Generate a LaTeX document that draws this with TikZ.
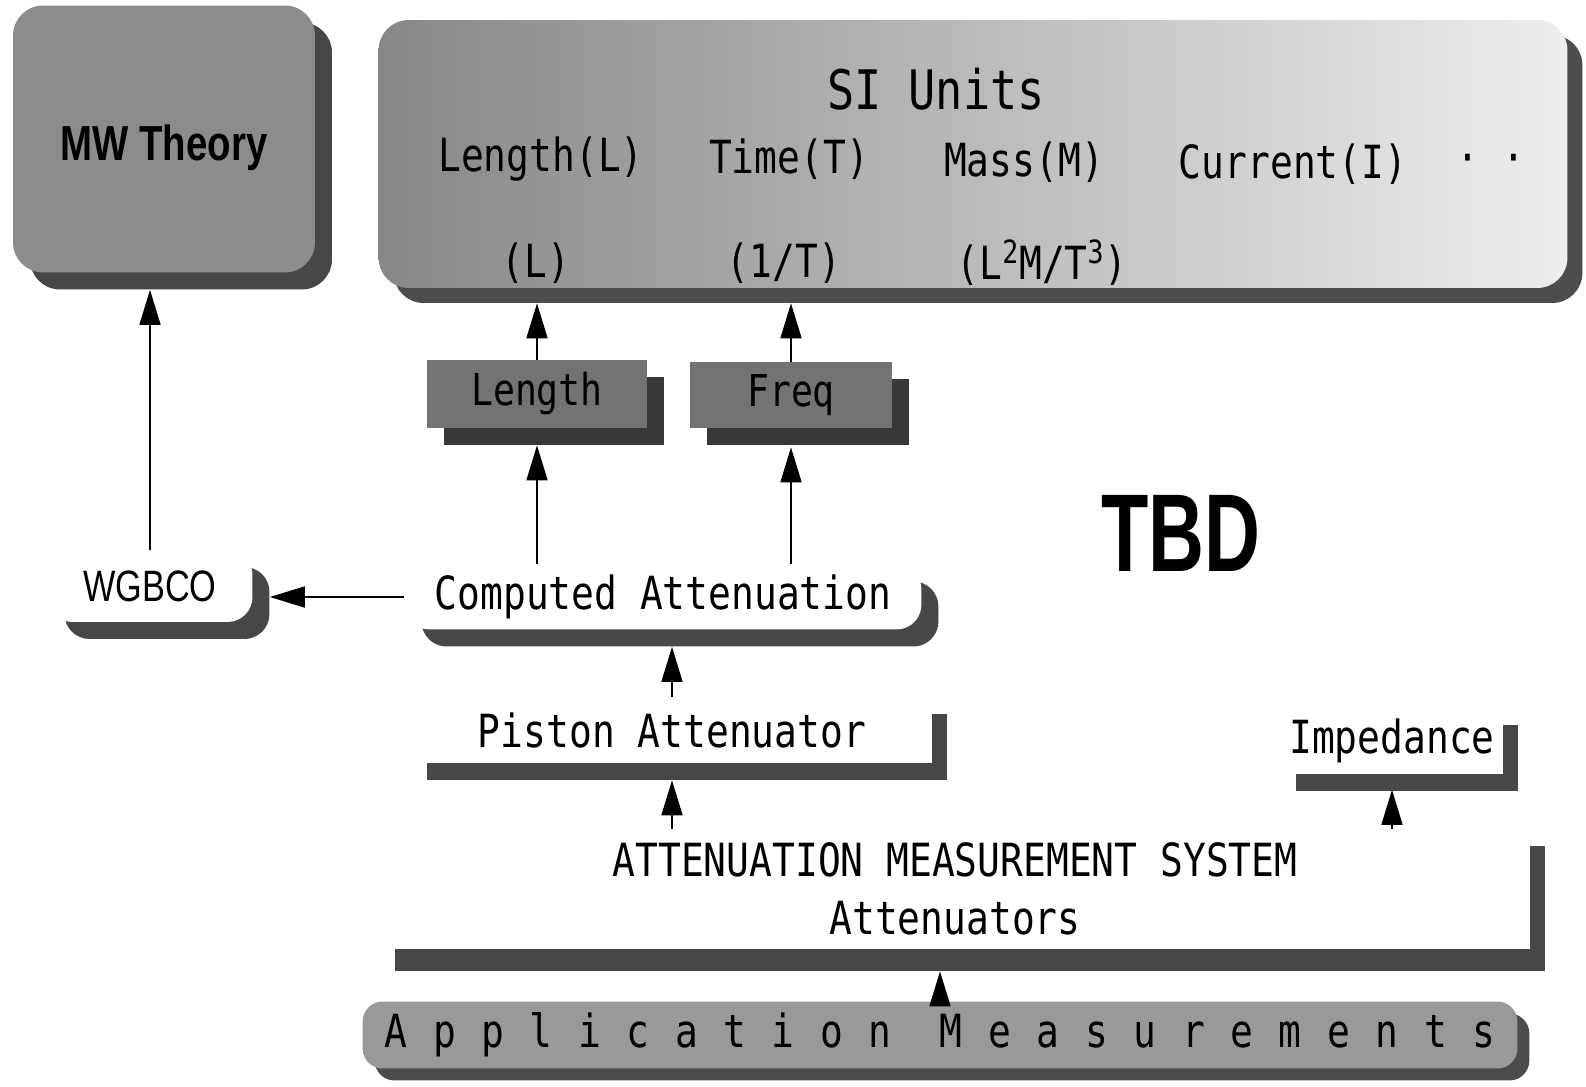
\documentclass[tikz,border=0pt]{standalone}
\usepackage{fontspec}
\usepackage{graphicx}
\usetikzlibrary{arrows.meta,shadows}
\newfontfamily\monofont[FakeStretch=0.83]{DejaVu Sans Mono}
\newfontfamily\condfont[FakeStretch=0.78]{Liberation Sans}
\newfontfamily\tbdfont[FakeStretch=0.7]{Liberation Sans}
\tikzset{
  txt/.style={font=\monofont\fontsize{26}{30}\selectfont, inner sep=0pt},
  link/.style={-{Triangle[length=0.7cm,width=0.42cm]}, line width=0.9pt},
  greybox/.style={fill=black!45, rounded corners=0.6cm,
    drop shadow={shadow xshift=0.34cm, shadow yshift=-0.34cm, fill=black!72, opacity=1}},
  sibox/.style={left color=black!47, right color=black!7, rounded corners=0.6cm,
    drop shadow={shadow xshift=0.3cm, shadow yshift=-0.3cm, fill=black!70, opacity=1}},
  tagbox/.style={fill=black!55, txt, font=\monofont\fontsize{25}{30}\selectfont,
    drop shadow={shadow xshift=0.34cm, shadow yshift=-0.34cm, fill=black!78, opacity=1}},
  roundbox/.style={fill=white, txt, rounded corners=0.5cm,
    drop shadow={shadow xshift=0.34cm, shadow yshift=-0.34cm, fill=black!72, opacity=1}},
  flatbox/.style={fill=white, txt,
    drop shadow={shadow xshift=0.3cm, shadow yshift=-0.34cm, fill=black!72, opacity=1}},
}
\begin{document}
\begin{tikzpicture}[x=0.02cm, y=-0.02cm]
  \useasboundingbox (0,0) rectangle (1586,1087);

  % Theorie en SI-eenheden
  \node[greybox, minimum width=6.04cm, minimum height=5.34cm, text height=1.05cm,
        font=\condfont\bfseries\fontsize{28}{32}\selectfont] (mw) at (164,139) {MW Theory};
  \node[sibox, minimum width=23.78cm, minimum height=5.36cm] (si) at (973,154) {};
  \node[txt, font=\monofont\fontsize{31}{34}\selectfont] (si-title) at (936,89) {SI Units};
  \node[txt] (si-len) at (541,159) {Length(L)};
  \node[txt] (si-time) at (789,159) {Time(T)};
  \node[txt] (si-mass) at (1024,162) {Mass(M)};
  \node[txt] (si-cur) at (1293,164) {Current(I)};
  \node[txt] (si-more) at (1491,164) {· ·};
  \node[txt] (dim-len) at (536,263) {(L)};
  \node[txt] (dim-freq) at (784,263) {(1/T)};
  \node[txt] (dim-pow) at (1042,263) {(L\textsuperscript{2}M/T\textsuperscript{3})};

  % Grootheden
  \node[tagbox, minimum width=4.42cm, minimum height=1.36cm] (len) at (537,394) {Length};
  \node[tagbox, minimum width=4.04cm, minimum height=1.32cm] (freq) at (791,395) {Freq};

  \node[inner sep=0pt, font=\tbdfont\bfseries\fontsize{63}{66}\selectfont] (tbd) at (1181,533) {TBD};

  % Meetketen
  \node[roundbox, minimum width=10.34cm, minimum height=1.3cm] (comp) at (663,597) {Computed Attenuation};
  \node[roundbox, minimum width=4.1cm, minimum height=1.44cm,
        font=\condfont\fontsize{25}{28}\selectfont] (wgbco) at (150,586) {WGBCO};
  \node[flatbox, minimum width=10.4cm, minimum height=1.32cm] (piston) at (672,730) {Piston Attenuator};
  \node[flatbox, minimum width=4.44cm, minimum height=1.34cm] (imp) at (1392,741) {Impedance};
  \node[flatbox, align=center, minimum width=23cm, minimum height=2.4cm,
        font=\monofont\fontsize{26}{33}\selectfont,
        drop shadow={shadow xshift=0.3cm, shadow yshift=-0.44cm, fill=black!72, opacity=1}]
        (ams) at (955,889) {ATTENUATION MEASUREMENT SYSTEM\\Attenuators};
  \node[fill=black!40, txt, rounded corners=0.4cm, minimum width=23.1cm, minimum height=1.34cm,
        drop shadow={shadow xshift=0.24cm, shadow yshift=-0.24cm, fill=black!70, opacity=1}]
        (app) at (940,1035) {\addfontfeatures{LetterSpace=56}Application Measurements};

  % Pijlen
  \draw[link, shorten >=0.3cm] (len.north) -- (len.north |- si.south);
  \draw[link, shorten >=0.3cm] (freq.north) -- (freq.north |- si.south);
  \draw[link, shorten >=0.34cm] (len.south |- comp.north) -- (len.south);
  \draw[link, shorten >=0.38cm] (freq.south |- comp.north) -- (freq.south);
  \draw[link, shorten >=0.34cm] (comp.west) -- (comp.west -| wgbco.east);
  \draw[link, shorten >=0.34cm] (wgbco.north) -- (wgbco.north |- mw.south);
  \draw[link, shorten >=0.34cm] (piston.north) -- (piston.north |- comp.south);
  \draw[link, shorten >=0.34cm] (piston.south |- ams.north) -- (piston.south);
  \draw[link, shorten >=0.3cm] (imp.south |- ams.north) -- (imp.south);
  \draw[link, shorten >=0.44cm] (app.north) -- (app.north |- ams.south);
\end{tikzpicture}
\end{document}
